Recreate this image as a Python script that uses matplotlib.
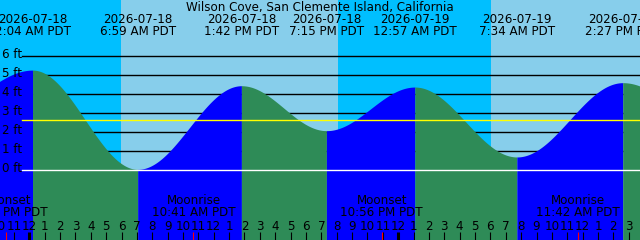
import numpy as np
import matplotlib
matplotlib.use("Agg")
import matplotlib.pyplot as plt

# ---------------- data ----------------
title = "Wilson Cove, San Clemente Island, California"

# tide extremes: hours after midnight 2026-07-18 (as placed in the picture), heights in ft
tide_hours   = [-6.2, 0.21, 7.05, 13.80, 19.33, 25.08, 31.72, 38.61, 45.0]
tide_heights = [2.90, 5.26, 0.05, 4.44, 2.08, 4.37, 0.70, 4.60, 2.20]
tide_dates   = ["", "2026-07-18", "2026-07-18", "2026-07-18", "2026-07-18",
                "2026-07-19", "2026-07-19", "2026-07-19", ""]
tide_times   = ["", "2:04 AM PDT", "6:59 AM PDT", "1:42 PM PDT", "7:15 PM PDT",
                "12:57 AM PDT", "7:34 AM PDT", "2:27 PM PDT", ""]

# daylight intervals (hours after midnight 2026-07-18)
day_starts = [5.95, 30.04]
day_ends   = [20.08, 45.0]

# moon events
moon_hours  = [-1.50, 10.68, 22.93, 35.70]
moon_names  = ["Moonset", "Moonrise", "Moonset", "Moonrise"]
moon_times  = ["10:30 PM PDT", "10:41 AM PDT", "10:56 PM PDT", "11:42 AM PDT"]

mean_level = 2.62
ft_levels = [0, 1, 2, 3, 4, 5, 6]
hour_ticks = list(range(-2, 40))

# ---------------- layout ----------------
W, H = 640, 240
px_per_hour = 15.37
midnight_px = 29.3
zero_px = 170.3
px_per_ft = 19.05

x0 = -midnight_px / px_per_hour
x1 = (W - midnight_px) / px_per_hour
y_top = zero_px / px_per_ft
y_bot = -(H - zero_px) / px_per_ft

def yfrac(ypx):
    return 1 - ypx / H

plt.rcParams['font.family'] = ['DejaVu Sans']
FS = 8.6

fig = plt.figure(figsize=(6.4, 2.4), dpi=100)
ax = fig.add_axes([0, 0, 1, 1])
ax.set_xlim(x0, x1)
ax.set_ylim(y_bot, y_top)
ax.axis('off')

NIGHT = '#00BFFF'
DAY = '#87CEEB'
RISE = '#0000FF'
FALL = '#2E8B57'

ax.axvspan(x0 - 5, x1 + 5, color=NIGHT, zorder=0, lw=0)
for s, e in zip(day_starts, day_ends):
    ax.axvspan(s, e, color=DAY, zorder=0.5, lw=0)

# grid lines
xmin_frac = 22 / W
for lv in ft_levels:
    if lv == 0:
        ax.axhline(lv, xmin=xmin_frac, xmax=1, color='white', lw=1.0, zorder=3)
    else:
        ax.axhline(lv, xmin=xmin_frac, xmax=1, color='black', lw=1.0, zorder=1)
    ax.text(2.5 / W, lv + 0.08, f"{lv} ft", transform=ax.get_yaxis_transform(),
            ha='left', va='center', fontsize=FS, color='black', zorder=4)
ax.axhline(mean_level, xmin=xmin_frac, xmax=1, color='yellow', lw=1.0, zorder=3)

# tide curve between extremes, coloured by rising/falling
for i in range(len(tide_hours) - 1):
    ta, tb = tide_hours[i], tide_hours[i + 1]
    ha, hb = tide_heights[i], tide_heights[i + 1]
    t = np.linspace(ta, tb, 200)
    h = ha + (hb - ha) * (1 - np.cos(np.pi * (t - ta) / (tb - ta))) / 2
    col = RISE if hb > ha else FALL
    ax.fill_between(t, h, y_bot - 1, color=col, lw=0, zorder=2, antialiased=False)

# tide event labels at top
trans = ax.get_xaxis_transform()
for th, d, tm in zip(tide_hours, tide_dates, tide_times):
    if not d:
        continue
    ax.text(th, yfrac(19.5), d, transform=trans, ha='center', va='center', fontsize=FS, zorder=4)
    ax.text(th, yfrac(31.5), tm, transform=trans, ha='center', va='center', fontsize=FS, zorder=4)

ax.text(0.5, yfrac(7.5), title, transform=ax.transAxes, ha='center', va='center',
        fontsize=FS, zorder=4)

# hour ticks and labels
for hh in hour_ticks:
    hr = hh % 24
    lab = 12 if hr % 12 == 0 else hr % 12
    ax.text(hh, yfrac(226), str(lab), transform=trans, ha='center', va='center',
            fontsize=FS, zorder=4)
    lw = 2.2 if hr == 0 else 0.8
    ax.plot([hh, hh], [0, 8 / H], transform=trans, color='black', lw=lw,
            solid_capstyle='butt', zorder=4)

# moon events
for mh, mn, mt in zip(moon_hours, moon_names, moon_times):
    ax.text(mh, yfrac(201), mn, transform=trans, ha='center', va='center', fontsize=FS, zorder=4)
    ax.text(mh, yfrac(212.5), mt, transform=trans, ha='center', va='center', fontsize=FS, zorder=4)
    ax.plot([mh, mh], [0, 8 / H], transform=trans, color='red', lw=0.8,
            solid_capstyle='butt', zorder=4.5)

fig.savefig('out.png', dpi=100)
